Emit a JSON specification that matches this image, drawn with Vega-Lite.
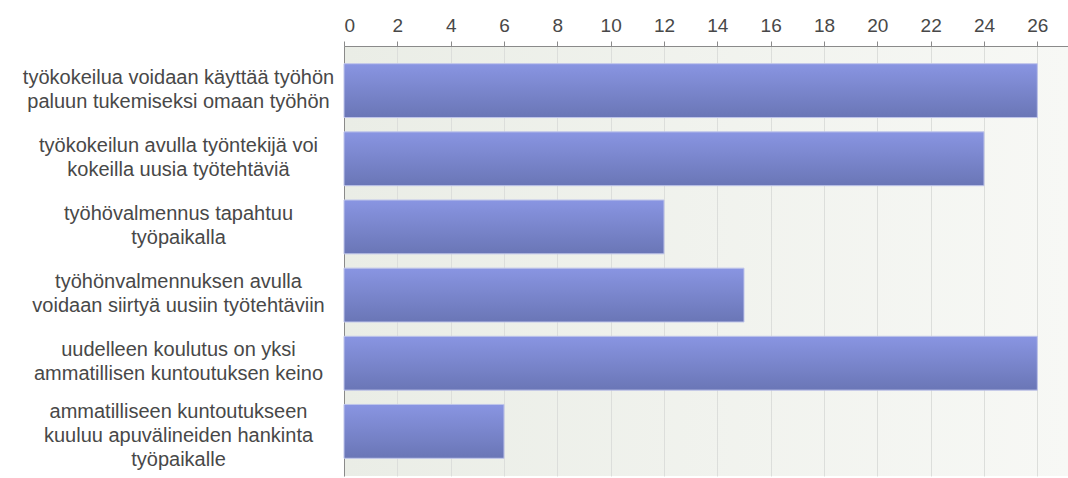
{
  "$schema": "https://vega.github.io/schema/vega-lite/v6.json",
  "width": 724,
  "height": 430,
  "autosize": {"type": "none"},
  "padding": {"left": 344, "top": 46, "right": 0, "bottom": 2},
  "background": "#ffffff",
  "data": {
    "values": [
      {"vaite": "työkokeilua voidaan käyttää työhön|paluun tukemiseksi omaan työhön", "vastaukset": 26},
      {"vaite": "työkokeilun avulla työntekijä voi|kokeilla uusia työtehtäviä", "vastaukset": 24},
      {"vaite": "työhövalmennus tapahtuu|työpaikalla", "vastaukset": 12},
      {"vaite": "työhönvalmennuksen avulla|voidaan siirtyä uusiin työtehtäviin", "vastaukset": 15},
      {"vaite": "uudelleen koulutus on yksi|ammatillisen kuntoutuksen keino", "vastaukset": 26},
      {"vaite": "ammatilliseen kuntoutukseen|kuuluu apuvälineiden hankinta|työpaikalle", "vastaukset": 6}
    ]
  },
  "mark": {
    "type": "bar",
    "color": {
      "gradient": "linear", "x1": 0, "y1": 0, "x2": 0, "y2": 1,
      "stops": [
        {"offset": 0, "color": "#8995e2"},
        {"offset": 1, "color": "#6a76b6"}
      ]
    },
    "stroke": "#bfc5ea",
    "strokeWidth": 1
  },
  "encoding": {
    "y": {
      "field": "vaite",
      "type": "nominal",
      "sort": null,
      "title": null,
      "scale": {"paddingInner": 0.21, "paddingOuter": 0.26},
      "axis": {
        "orient": "left",
        "ticks": false,
        "tickSize": 0,
        "domain": true,
        "domainColor": "#8a8a8a",
        "domainWidth": 1,
        "labelExpr": "split(datum.label, '|')",
        "labelAlign": "center",
        "labelBaseline": "middle",
        "labelPadding": 166,
        "labelOffset": {"expr": "length(split(datum.label, '|')) > 2 ? -19 : -13"},
        "labelFont": "Liberation Sans",
        "labelFontSize": 20,
        "labelLineHeight": 24,
        "labelColor": "#484848",
        "labelLimit": 400,
        "grid": false
      }
    },
    "x": {
      "field": "vastaukset",
      "type": "quantitative",
      "title": null,
      "scale": {"domain": [0, 27.15], "nice": false, "zero": true},
      "axis": {
        "orient": "top",
        "values": [0, 2, 4, 6, 8, 10, 12, 14, 16, 18, 20, 22, 24, 26],
        "domainColor": "#8a8a8a",
        "tickColor": "#8a8a8a",
        "tickSize": 5,
        "labelPadding": 6,
        "labelFont": "Liberation Sans",
        "labelFontSize": 19,
        "labelColor": "#484848",
        "grid": true,
        "gridColor": "#dcdedb",
        "gridWidth": 1
      }
    }
  },
  "config": {
    "view": {
      "stroke": null,
      "fill": {
        "gradient": "linear", "x1": 0, "y1": 0, "x2": 1, "y2": 0,
        "stops": [
          {"offset": 0, "color": "#eaede6"},
          {"offset": 1, "color": "#f7f8f5"}
        ]
      }
    }
  }
}
